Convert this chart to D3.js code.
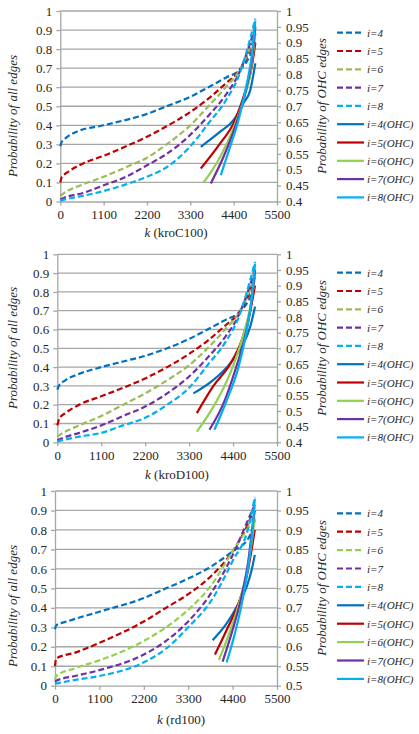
<!DOCTYPE html>
<html>
<head>
<meta charset="utf-8">
<script src="https://cdn.jsdelivr.net/npm/d3@7"></script>
<style>
  body { margin: 0; background: #fff; }
  text { font-family: "Liberation Serif", "Times New Roman", serif; fill: #262626; }
</style>
</head>
<body>
<svg id="chart" width="419" height="734"></svg>
<script>
// ---- data ----
const xTicks = [0, 1100, 2200, 3300, 4400, 5500];
const leftTicks = [0, 0.1, 0.2, 0.3, 0.4, 0.5, 0.6, 0.7, 0.8, 0.9, 1];
const rightTicks40 = [0.4, 0.45, 0.5, 0.55, 0.6, 0.65, 0.7, 0.75, 0.8, 0.85, 0.9, 0.95, 1];
const rightTicks50 = [0.5, 0.55, 0.6, 0.65, 0.7, 0.75, 0.8, 0.85, 0.9, 0.95, 1];
const allLabels = ["i=4", "i=5", "i=6", "i=7", "i=8"];
const ohcLabels = ["i=4(OHC)", "i=5(OHC)", "i=6(OHC)", "i=7(OHC)", "i=8(OHC)"];

// kroC100: [k, probability]
const kroC_all_i4 = [[0,0.29],[30,0.31],[150,0.335],[400,0.365],[1100,0.40],[2200,0.46],[2700,0.50],[3300,0.55],[3760,0.60],[4200,0.65],[4550,0.69],[4800,0.76],[4950,0.84]];
const kroC_all_i5 = [[0,0.10],[40,0.13],[160,0.15],[580,0.20],[1100,0.24],[1670,0.29],[2200,0.34],[2700,0.395],[3300,0.47],[3760,0.54],[4200,0.62],[4550,0.69],[4800,0.79],[4950,0.88]];
const kroC_all_i6 = [[0,0.03],[100,0.045],[580,0.09],[1100,0.13],[1670,0.18],[2200,0.23],[2700,0.30],[3300,0.40],[3760,0.50],[4200,0.60],[4550,0.69],[4800,0.80],[4950,0.90]];
const kroC_all_i7 = [[0,0.01],[100,0.02],[580,0.045],[1100,0.085],[1670,0.13],[2200,0.19],[2700,0.25],[3300,0.35],[3760,0.45],[4200,0.56],[4550,0.68],[4800,0.82],[4950,0.92]];
const kroC_all_i8 = [[0,0.005],[100,0.01],[580,0.03],[1100,0.055],[1670,0.09],[2200,0.13],[2700,0.18],[3300,0.29],[3760,0.41],[4200,0.53],[4550,0.67],[4800,0.84],[4950,0.96]];
const kroC_ohc_i4 = [[3566,0.572],[4057,0.62],[4395,0.656],[4650,0.71],[4820,0.75],[4950,0.835]];
const kroC_ohc_i5 = [[3566,0.504],[4057,0.583],[4395,0.646],[4650,0.73],[4860,0.824],[4950,0.90]];
const kroC_ohc_i6 = [[3632,0.459],[4057,0.54],[4395,0.63],[4650,0.72],[4820,0.80],[4950,0.93]];
const kroC_ohc_i7 = [[3820,0.457],[4140,0.54],[4437,0.635],[4691,0.74],[4860,0.845],[4950,0.95]];
const kroC_ohc_i8 = [[4073,0.483],[4310,0.572],[4522,0.656],[4733,0.77],[4860,0.86],[4950,0.97]];

// kroD100
const kroD_all_i4 = [[0,0.28],[40,0.30],[200,0.33],[500,0.36],[1100,0.40],[1650,0.43],[2200,0.46],[2750,0.50],[3300,0.55],[3760,0.60],[4200,0.65],[4550,0.69],[4800,0.76],[4950,0.84]];
const kroD_all_i5 = [[0,0.09],[60,0.13],[200,0.155],[550,0.20],[1100,0.245],[1650,0.29],[2200,0.34],[2750,0.40],[3300,0.47],[3760,0.54],[4200,0.62],[4550,0.69],[4800,0.79],[4950,0.88]];
const kroD_all_i6 = [[0,0.03],[100,0.045],[550,0.09],[1100,0.14],[1650,0.20],[2200,0.26],[2750,0.33],[3300,0.41],[3760,0.50],[4200,0.60],[4550,0.69],[4800,0.80],[4950,0.90]];
const kroD_all_i7 = [[0,0.01],[100,0.02],[550,0.05],[1100,0.09],[1650,0.14],[2200,0.19],[2750,0.26],[3300,0.35],[3760,0.45],[4200,0.56],[4550,0.68],[4800,0.82],[4950,0.92]];
const kroD_all_i8 = [[0,0.005],[100,0.01],[550,0.03],[1100,0.05],[1650,0.09],[2200,0.13],[2750,0.20],[3300,0.29],[3760,0.41],[4200,0.53],[4550,0.67],[4800,0.84],[4950,0.96]];
const kroD_ohc_i4 = [[3408,0.556],[3909,0.599],[4328,0.652],[4621,0.705],[4829,0.769],[4950,0.833]];
const kroD_ohc_i5 = [[3493,0.493],[3909,0.58],[4328,0.65],[4621,0.727],[4829,0.82],[4950,0.90]];
const kroD_ohc_i6 = [[3493,0.434],[3909,0.514],[4328,0.62],[4621,0.727],[4829,0.83],[4950,0.93]];
const kroD_ohc_i7 = [[3809,0.44],[4160,0.524],[4453,0.63],[4704,0.74],[4871,0.855],[4950,0.95]];
const kroD_ohc_i8 = [[3934,0.44],[4245,0.535],[4536,0.64],[4746,0.76],[4871,0.865],[4950,0.97]];

// rd100
const rd_all_i4 = [[0,0.29],[30,0.31],[300,0.33],[1100,0.38],[2200,0.45],[2750,0.50],[3300,0.55],[3850,0.61],[4400,0.69],[4800,0.76],[4950,0.85]];
const rd_all_i5 = [[0,0.10],[30,0.14],[500,0.17],[1100,0.22],[2200,0.33],[2750,0.40],[3300,0.47],[3850,0.56],[4400,0.69],[4800,0.84],[4950,0.92]];
const rd_all_i6 = [[0,0.03],[30,0.05],[500,0.09],[1100,0.13],[2200,0.23],[2750,0.30],[3300,0.39],[3850,0.51],[4400,0.69],[4800,0.82],[4950,0.88]];
const rd_all_i7 = [[0,0.02],[30,0.025],[500,0.05],[1100,0.08],[2200,0.16],[2750,0.23],[3300,0.33],[3850,0.47],[4400,0.67],[4800,0.86],[4950,0.93]];
const rd_all_i8 = [[0,0.01],[500,0.03],[1100,0.05],[2200,0.12],[2750,0.19],[3300,0.30],[3850,0.43],[4400,0.64],[4800,0.82],[4950,0.97]];
const rd_ohc_i4 = [[3906,0.617],[4253,0.66],[4541,0.71],[4748,0.754],[4872,0.797],[4950,0.836]];
const rd_ohc_i5 = [[3963,0.58],[4253,0.643],[4541,0.71],[4748,0.78],[4872,0.85],[4950,0.90]];
const rd_ohc_i6 = [[4062,0.566],[4335,0.64],[4582,0.72],[4789,0.814],[4913,0.90],[4950,0.93]];
const rd_ohc_i7 = [[4153,0.562],[4376,0.635],[4624,0.73],[4789,0.82],[4913,0.925],[4950,0.95]];
const rd_ohc_i8 = [[4253,0.56],[4459,0.635],[4665,0.73],[4830,0.84],[4913,0.925],[4950,0.98]];

// ---- layout / style ----
const colors = ["#0070C0", "#C00000", "#92D050", "#7030A0", "#00B0F0"];
const gridColor = "#A6A6A6";

const panels = [
  { name: "kroC100", all: [kroC_all_i4, kroC_all_i5, kroC_all_i6, kroC_all_i7, kroC_all_i8],
    ohc: [kroC_ohc_i4, kroC_ohc_i5, kroC_ohc_i6, kroC_ohc_i7, kroC_ohc_i8],
    rightTicks: rightTicks40, green: "#9BBB59",
    x0: 60.3, x1: 277, y0: 11, y1: 201.5, legendY: 32.7, legendStep: 18.3,
    xTitleX: 176, xTitleY: 237, lTitleY: 116, rTitleY: 106 },
  { name: "kroD100", all: [kroD_all_i4, kroD_all_i5, kroD_all_i6, kroD_all_i7, kroD_all_i8],
    ohc: [kroD_ohc_i4, kroD_ohc_i5, kroD_ohc_i6, kroD_ohc_i7, kroD_ohc_i8],
    rightTicks: rightTicks40, green: "#9BBB59",
    x0: 57.3, x1: 277, y0: 254.3, y1: 442.3, legendY: 272.7, legendStep: 18.3,
    xTitleX: 177, xTitleY: 479, lTitleY: 348, rTitleY: 348 },
  { name: "rd100", all: [rd_all_i4, rd_all_i5, rd_all_i6, rd_all_i7, rd_all_i8],
    ohc: [rd_ohc_i4, rd_ohc_i5, rd_ohc_i6, rd_ohc_i7, rd_ohc_i8],
    rightTicks: rightTicks50, green: "#92D050",
    x0: 55, x1: 277, y0: 491, y1: 685.7, legendY: 513.3, legendStep: 18.4,
    xTitleX: 181, xTitleY: 724, lTitleY: 606, rTitleY: 588 }
];

const svg = d3.select("#chart");

function styleAxis(g) {
  g.select(".domain").attr("stroke", gridColor).attr("stroke-width", 1.3);
  g.selectAll(".tick line").attr("stroke", gridColor).attr("stroke-width", 1.3);
  g.selectAll(".tick text").attr("font-size", 13).attr("fill", "#262626");
}

panels.forEach(p => {
  const x = d3.scaleLinear().domain([0, 5500]).range([p.x0, p.x1]);
  const yL = d3.scaleLinear().domain([0, 1]).range([p.y1, p.y0]);
  const yR = d3.scaleLinear().domain([p.rightTicks[0], 1]).range([p.y1, p.y0]);
  const g = svg.append("g");

  // gridlines
  g.append("g")
    .selectAll("line")
    .data(leftTicks.slice(1))
    .join("line")
    .attr("x1", p.x0).attr("x2", p.x1)
    .attr("y1", d => yL(d)).attr("y2", d => yL(d))
    .attr("stroke", gridColor).attr("stroke-width", 1.3);

  g.append("g")
    .attr("transform", `translate(0,${p.y1})`)
    .call(d3.axisBottom(x).tickValues(xTicks).tickFormat(d3.format("d")).tickSizeInner(4).tickSizeOuter(0).tickPadding(4))
    .call(styleAxis);

  g.append("g")
    .attr("transform", `translate(${p.x0},0)`)
    .call(d3.axisLeft(yL).tickValues(leftTicks).tickFormat(d => d3.format("")(+d.toFixed(2))).tickSizeInner(4).tickSizeOuter(0).tickPadding(4))
    .call(styleAxis);

  g.append("g")
    .attr("transform", `translate(${p.x1},0)`)
    .call(d3.axisRight(yR).tickValues(p.rightTicks).tickFormat(d => d3.format("")(+d.toFixed(2))).tickSizeInner(4).tickSizeOuter(0).tickPadding(5))
    .call(styleAxis);

  const lineL = d3.line().x(d => x(d[0])).y(d => yL(d[1])).curve(d3.curveMonotoneX);
  const lineR = d3.line().x(d => x(d[0])).y(d => yR(d[1])).curve(d3.curveMonotoneX);
  const col = i => (i === 2 ? p.green : colors[i]);

  g.append("g").selectAll("path")
    .data(p.all)
    .join("path")
    .attr("d", lineL)
    .attr("fill", "none")
    .attr("stroke", (d, i) => col(i))
    .attr("stroke-width", 2.2)
    .attr("stroke-dasharray", "6,3");

  g.append("g").selectAll("path")
    .data(p.ohc)
    .join("path")
    .attr("d", lineR)
    .attr("fill", "none")
    .attr("stroke", (d, i) => colors[i])
    .attr("stroke-width", 2.2);

  // axis titles
  const xt = g.append("text")
    .attr("x", p.xTitleX).attr("y", p.xTitleY)
    .attr("text-anchor", "middle").attr("font-size", 13);
  xt.append("tspan").attr("font-style", "italic").text("k");
  xt.append("tspan").text(` (${p.name})`);

  g.append("text")
    .attr("transform", `translate(17,${p.lTitleY}) rotate(-90)`)
    .attr("text-anchor", "middle").attr("font-size", 13).attr("font-style", "italic")
    .text("Probability of all edges");

  g.append("text")
    .attr("transform", `translate(326,${p.rTitleY}) rotate(-90)`)
    .attr("text-anchor", "middle").attr("font-size", 13).attr("font-style", "italic")
    .text("Probability of OHC edges");

  // legend
  const legendItems = allLabels.map((t, i) => ({ t, c: col(i), dash: true }))
    .concat(ohcLabels.map((t, i) => ({ t, c: colors[i], dash: false })));
  const lg = g.append("g").selectAll("g")
    .data(legendItems)
    .join("g")
    .attr("transform", (d, i) => `translate(0,${p.legendY + i * p.legendStep})`);
  lg.append("line")
    .attr("x1", 337).attr("x2", 364).attr("y1", 0).attr("y2", 0)
    .attr("stroke", d => d.c).attr("stroke-width", 2.2)
    .attr("stroke-dasharray", d => d.dash ? "6,3" : null);
  lg.append("text")
    .attr("x", 367).attr("y", 4)
    .attr("font-size", 11).attr("font-style", "italic")
    .text(d => d.t);
});
</script>
</body>
</html>
